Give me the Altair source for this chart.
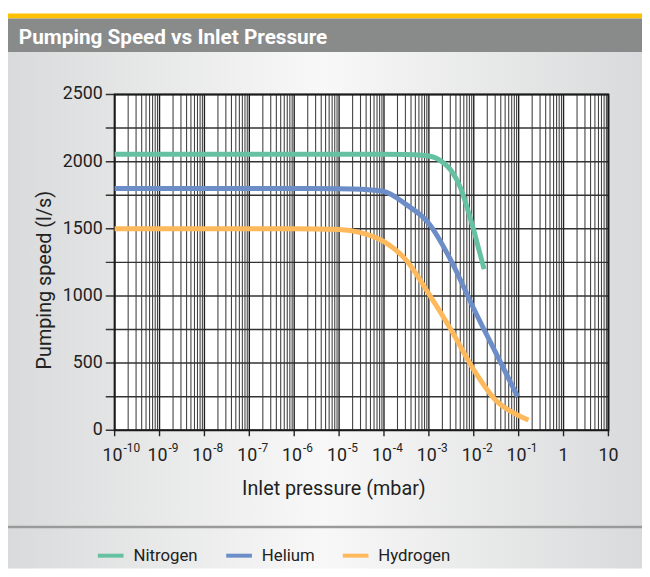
import altair as alt
import pandas as pd

# ---------------- data ----------------
gases = ["Nitrogen", "Helium", "Hydrogen"]
gas_colors = ["#66c1a2", "#6c8dc8", "#fdb95b"]

nitrogen_p = [1e-10, 1e-6, 1e-4, 3.16e-4, 1e-3, 2e-3, 3.16e-3, 5e-3, 7e-3, 1e-2, 1.3e-2, 1.7e-2]
nitrogen_s = [2055, 2055, 2055, 2053, 2042, 1997, 1932, 1810, 1665, 1490, 1345, 1200]

helium_p = [1e-10, 1e-6, 1e-5, 3.16e-5, 1e-4, 3.16e-4, 1e-3, 3.16e-3, 1e-2, 3.16e-2, 9.5e-2]
helium_s = [1800, 1800, 1798, 1794, 1778, 1680, 1540, 1260, 905, 570, 250]

hydrogen_p = [1e-10, 1e-6, 1e-5, 3.16e-5, 1e-4, 3.16e-4, 1e-3, 3.16e-3, 1e-2, 3.16e-2, 1e-1, 1.66e-1]
hydrogen_s = [1500, 1500, 1495, 1470, 1405, 1265, 1015, 745, 450, 220, 110, 76]

y_ticks = [0, 250, 500, 750, 1000, 1250, 1500, 1750, 2000, 2250, 2500]
y_labels = [0, 500, 1000, 1500, 2000, 2500]
decade_pos = [1e-10, 1e-9, 1e-8, 1e-7, 1e-6, 1e-5, 1e-4, 1e-3, 1e-2, 1e-1]
decade_exp = ["-10", "-9", "-8", "-7", "-6", "-5", "-4", "-3", "-2", "-1"]
plain_pos = [1, 10]
plain_lab = ["1", "10"]
all_decades = decade_pos + plain_pos

title_text = "Pumping Speed vs Inlet Pressure"
x_title = "Inlet pressure (mbar)"
y_title = "Pumping speed (l/s)"

# ---------------- tables ----------------
rows = []
for g, ps, ss in [("Nitrogen", nitrogen_p, nitrogen_s),
                  ("Helium", helium_p, helium_s),
                  ("Hydrogen", hydrogen_p, hydrogen_s)]:
    for p, s in zip(ps, ss):
        rows.append({"gas": g, "p": p, "s": s})
lines_df = pd.DataFrame(rows)

grid_x = [k * 10.0 ** e for e in range(-10, 1) for k in range(2, 10)]
gridx_df = pd.DataFrame({"p": grid_x})
major_df = pd.DataFrame({"p": all_decades})
gridy_df = pd.DataFrame({"s": y_ticks})
ylab_df = pd.DataFrame({"s": y_labels, "t": [str(v) for v in y_labels]})
dec_df = pd.DataFrame({"p": decade_pos, "e": decade_exp})
plain_df = pd.DataFrame({"p": plain_pos, "t": plain_lab})
one = pd.DataFrame({"k": [0]})

FONT = "Roboto"
TXT = "#222222"
W, H = 500, 340

xscale = alt.Scale(type="log", domain=[1e-10, 10], nice=False)
yscale = alt.Scale(domain=[0, 2500], nice=False)

# ---------------- decoration ----------------
bg = alt.Chart(one).mark_rect(
    fill={"gradient": "linear", "x1": 0, "x2": 1, "y1": 0, "y2": 0,
          "stops": [{"offset": 0, "color": "#d9dadb"},
                    {"offset": 0.5, "color": "#f8f8f8"},
                    {"offset": 1, "color": "#d9dadb"}]}
).encode(x=alt.value(-110), x2=alt.value(534), y=alt.value(-43), y2=alt.value(480))

stripe = alt.Chart(one).mark_rect(color="#ffc000").encode(
    x=alt.value(-110), x2=alt.value(534), y=alt.value(-82), y2=alt.value(-77))
bar = alt.Chart(one).mark_rect(color="#898b8b").encode(
    x=alt.value(-110), x2=alt.value(534), y=alt.value(-77), y2=alt.value(-43))
sep = alt.Chart(one).mark_rule(color="#9a9a9a", strokeWidth=2.5).encode(
    x=alt.value(-110), x2=alt.value(534), y=alt.value(438))
plotbg = alt.Chart(one).mark_rect(color="white").encode(
    x=alt.value(0), x2=alt.value(W), y=alt.value(0), y2=alt.value(H))

title = alt.Chart(one).mark_text(
    text=title_text, font=FONT, fontSize=21, fontWeight="bold", color="white",
    align="left", baseline="alphabetic"
).encode(x=alt.value(-97), y=alt.value(-51))

# ---------------- grid ----------------
xgrid = alt.Chart(gridx_df).mark_rule(color="#444444", strokeWidth=1.1).encode(
    x=alt.X("p:Q", scale=xscale, axis=None), y=alt.value(0), y2=alt.value(H))
xmajor = alt.Chart(major_df).mark_rule(color="#222222", strokeWidth=1.4).encode(
    x=alt.X("p:Q", scale=xscale, axis=None), y=alt.value(0), y2=alt.value(H + 6))
ygrid = alt.Chart(gridy_df).mark_rule(color="#333333", strokeWidth=1.5).encode(
    y=alt.Y("s:Q", scale=yscale, axis=None), x=alt.value(-9), x2=alt.value(W))
border = alt.Chart(one).mark_rect(fill=None, stroke="#1a1a1a", strokeWidth=2).encode(
    x=alt.value(0), x2=alt.value(W), y=alt.value(0), y2=alt.value(H))

# ---------------- curves ----------------
lines = alt.Chart(lines_df).mark_line(strokeWidth=5, interpolate="monotone", strokeCap="butt").encode(
    x=alt.X("p:Q", scale=xscale, axis=None),
    y=alt.Y("s:Q", scale=yscale, axis=None),
    color=alt.Color("gas:N", scale=alt.Scale(domain=gases, range=gas_colors),
                    legend=alt.Legend(title=None, orient="none", legendX=-19, legendY=452,
                                      direction="horizontal", symbolType="stroke",
                                      symbolSize=676, symbolStrokeWidth=4,
                                      labelFont=FONT, labelFontSize=17, labelColor=TXT,
                                      labelOffset=8, columnPadding=20, padding=0)),
    detail="gas:N",
    order="p:Q",
)

# ---------------- axis labels ----------------
ylab = alt.Chart(ylab_df).mark_text(
    font=FONT, fontSize=18, color=TXT, align="right", baseline="middle", dx=-12
).encode(y=alt.Y("s:Q", scale=yscale, axis=None), x=alt.value(0), text="t:N")
xbase = alt.Chart(dec_df).mark_text(
    text="10", font=FONT, fontSize=18, color=TXT, align="right", baseline="alphabetic", dx=8
).encode(x=alt.X("p:Q", scale=xscale, axis=None), y=alt.value(371))
xexp = alt.Chart(dec_df).mark_text(
    font=FONT, fontSize=12, color=TXT, align="left", baseline="alphabetic", dx=9
).encode(x=alt.X("p:Q", scale=xscale, axis=None), y=alt.value(362), text="e:N")
xplain = alt.Chart(plain_df).mark_text(
    font=FONT, fontSize=18, color=TXT, align="center", baseline="alphabetic"
).encode(x=alt.X("p:Q", scale=xscale, axis=None), y=alt.value(371), text="t:N")

xt = alt.Chart(one).mark_text(
    text=x_title, font=FONT, fontSize=20, color=TXT, align="center", baseline="alphabetic"
).encode(x=alt.value(222), y=alt.value(406))
yt = alt.Chart(one).mark_text(
    text=y_title, font=FONT, fontSize=20, color=TXT, align="center", baseline="alphabetic",
    angle=270
).encode(x=alt.value(-64), y=alt.value(188))

chart = alt.layer(
    bg, stripe, bar, sep, plotbg, xgrid, ygrid, xmajor, border, lines,
    ylab, xbase, xexp, xplain, xt, yt, title
).properties(
    width=W, height=H,
    padding={"left": 108, "top": 84, "right": 34, "bottom": 145},
    autosize=alt.AutoSizeParams(type="none"),
).configure_view(stroke=None).configure(background="white")

chart.save("out.html", embed_options={"renderer": "svg", "actions": False})
